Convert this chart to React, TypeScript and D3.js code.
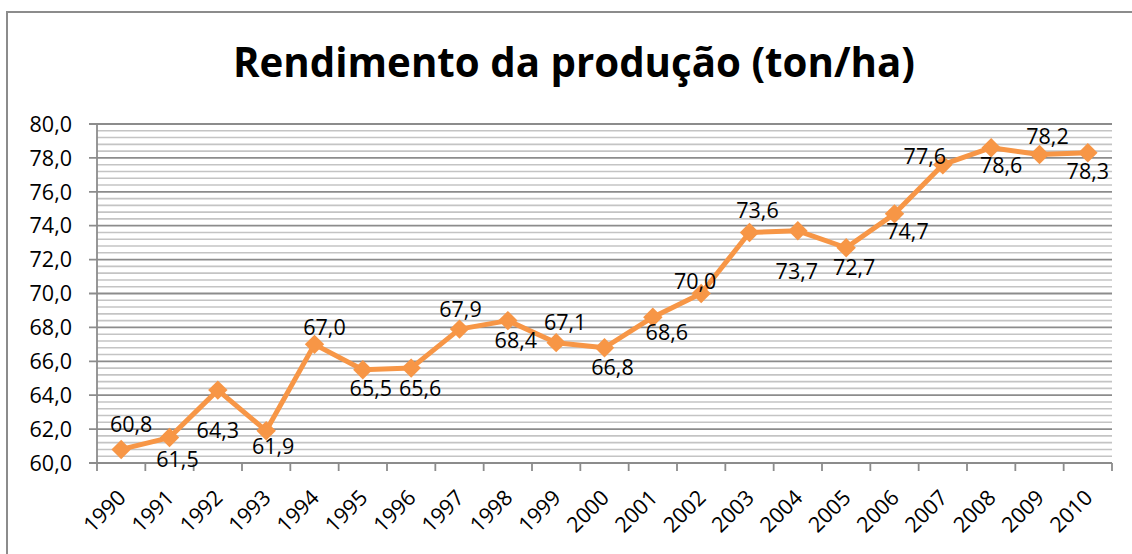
import { useEffect, useRef } from "react";
import * as d3 from "d3";

const years = [
  "1990", "1991", "1992", "1993", "1994", "1995", "1996", "1997", "1998", "1999", "2000",
  "2001", "2002", "2003", "2004", "2005", "2006", "2007", "2008", "2009", "2010",
];
const yields = [
  60.8, 61.5, 64.3, 61.9, 67.0, 65.5, 65.6, 67.9, 68.4, 67.1, 66.8,
  68.6, 70.0, 73.6, 73.7, 72.7, 74.7, 77.6, 78.6, 78.2, 78.3,
];
const yTicks = [60, 62, 64, 66, 68, 70, 72, 74, 76, 78, 80];

// where Excel left each data label, relative to its point (px)
const labelNudge: [number, number][] = [
  [10, -25], [8, 22], [0, 40], [7, 15], [10, -17], [8, 18], [9, 20],
  [1, -20], [8, 20], [9, -20], [8, 20], [14, 15], [-6, -12], [8, -22],
  [-1, 40], [8, 20], [13, 17], [-18, -8], [10, 18], [8, -18], [0, 18],
];

const TITLE = "Rendimento da produção (ton/ha)";
const ORANGE = "#F79646";
const FONT = "'Open Sans', sans-serif";
const FS = "21.5px";

export default function App() {
  const svgRef = useRef<SVGSVGElement>(null);

  useEffect(() => {
    const svg = d3.select(svgRef.current);
    svg.selectAll("*").remove();

    const W = 1132;
    const H = 554;
    const plot = { left: 97, right: 1112, top: 124, bottom: 463 };

    // chart frame (cut off right/bottom like the original)
    svg
      .append("rect")
      .attr("x", 7)
      .attr("y", 12)
      .attr("width", W + 50)
      .attr("height", H + 50)
      .attr("fill", "#fff")
      .attr("stroke", "#8c8c8c")
      .attr("stroke-width", 2);

    svg
      .append("text")
      .attr("x", 574)
      .attr("y", 77)
      .attr("text-anchor", "middle")
      .attr("textLength", 682)
      .attr("lengthAdjust", "spacingAndGlyphs")
      .style("font-family", FONT)
      .style("font-weight", "bold")
      .style("font-size", "42px")
      .text(TITLE);

    const x = d3.scaleBand().domain(years).range([plot.left, plot.right]);
    const y = d3.scaleLinear().domain([60, 80]).range([plot.bottom, plot.top]);

    // minor grid every 0.4
    const minor = d3.range(60, 80.001, 0.4).filter((v) => Math.abs(v / 2 - Math.round(v / 2)) > 1e-6);
    svg
      .append("g")
      .selectAll("line")
      .data(minor)
      .enter()
      .append("line")
      .attr("x1", plot.left)
      .attr("x2", plot.right)
      .attr("y1", (d) => y(d))
      .attr("y2", (d) => y(d))
      .attr("stroke", "#c4c4c4")
      .attr("stroke-width", 1.6);

    svg
      .append("g")
      .selectAll("line")
      .data(yTicks)
      .enter()
      .append("line")
      .attr("x1", plot.left - 8)
      .attr("x2", plot.right)
      .attr("y1", (d) => y(d))
      .attr("y2", (d) => y(d))
      .attr("stroke", "#8c8c8c")
      .attr("stroke-width", 1.8);

    // y axis
    svg
      .append("line")
      .attr("x1", plot.left)
      .attr("x2", plot.left)
      .attr("y1", plot.top)
      .attr("y2", plot.bottom)
      .attr("stroke", "#8c8c8c")
      .attr("stroke-width", 1.8);

    svg
      .append("g")
      .selectAll("text")
      .data(yTicks)
      .enter()
      .append("text")
      .attr("x", 72)
      .attr("y", (d) => y(d))
      .attr("dy", "0.36em")
      .attr("text-anchor", "end")
      .style("font-family", FONT)
      .style("font-size", FS)
      .text((d) => d.toFixed(1).replace(".", ","));

    // x axis
    svg
      .append("line")
      .attr("x1", plot.left)
      .attr("x2", plot.right)
      .attr("y1", plot.bottom)
      .attr("y2", plot.bottom)
      .attr("stroke", "#8c8c8c")
      .attr("stroke-width", 1.8);

    const bounds = years.map((yr) => x(yr) as number).concat([plot.right]);
    svg
      .append("g")
      .selectAll("line")
      .data(bounds)
      .enter()
      .append("line")
      .attr("x1", (d) => d)
      .attr("x2", (d) => d)
      .attr("y1", plot.bottom)
      .attr("y2", plot.bottom + 8)
      .attr("stroke", "#8c8c8c")
      .attr("stroke-width", 1.8);

    const cx = (yr: string) => (x(yr) as number) + x.bandwidth() / 2;

    svg
      .append("g")
      .selectAll("text")
      .data(years)
      .enter()
      .append("text")
      .attr("transform", (d) => `translate(${cx(d) + 6},${plot.bottom + 36}) rotate(-45)`)
      .attr("text-anchor", "end")
      .style("font-family", FONT)
      .style("font-size", FS)
      .text((d) => d);

    // series
    const pts = years.map((yr, i) => ({ yr, v: yields[i], i }));
    const line = d3
      .line<{ yr: string; v: number }>()
      .x((d) => cx(d.yr))
      .y((d) => y(d.v));

    svg
      .append("path")
      .datum(pts)
      .attr("d", line)
      .attr("fill", "none")
      .attr("stroke", ORANGE)
      .attr("stroke-width", 5)
      .attr("stroke-linejoin", "round");

    const diamond = d3.symbol().type(d3.symbolDiamond2).size(240);
    svg
      .append("g")
      .selectAll("path")
      .data(pts)
      .enter()
      .append("path")
      .attr("d", diamond)
      .attr("transform", (d) => `translate(${cx(d.yr)},${y(d.v)})`)
      .attr("fill", ORANGE);

    svg
      .append("g")
      .selectAll("text")
      .data(pts)
      .enter()
      .append("text")
      .attr("x", (d) => cx(d.yr) + labelNudge[d.i][0])
      .attr("y", (d) => y(d.v) + labelNudge[d.i][1])
      .attr("dy", "0.36em")
      .attr("text-anchor", "middle")
      .style("font-family", FONT)
      .style("font-size", FS)
      .text((d) => d.v.toFixed(1).replace(".", ","));
  }, []);

  return (
    <svg
      ref={svgRef}
      width={1132}
      height={554}
      style={{ position: "absolute", left: 0, top: 0, background: "#fff" }}
    />
  );
}
